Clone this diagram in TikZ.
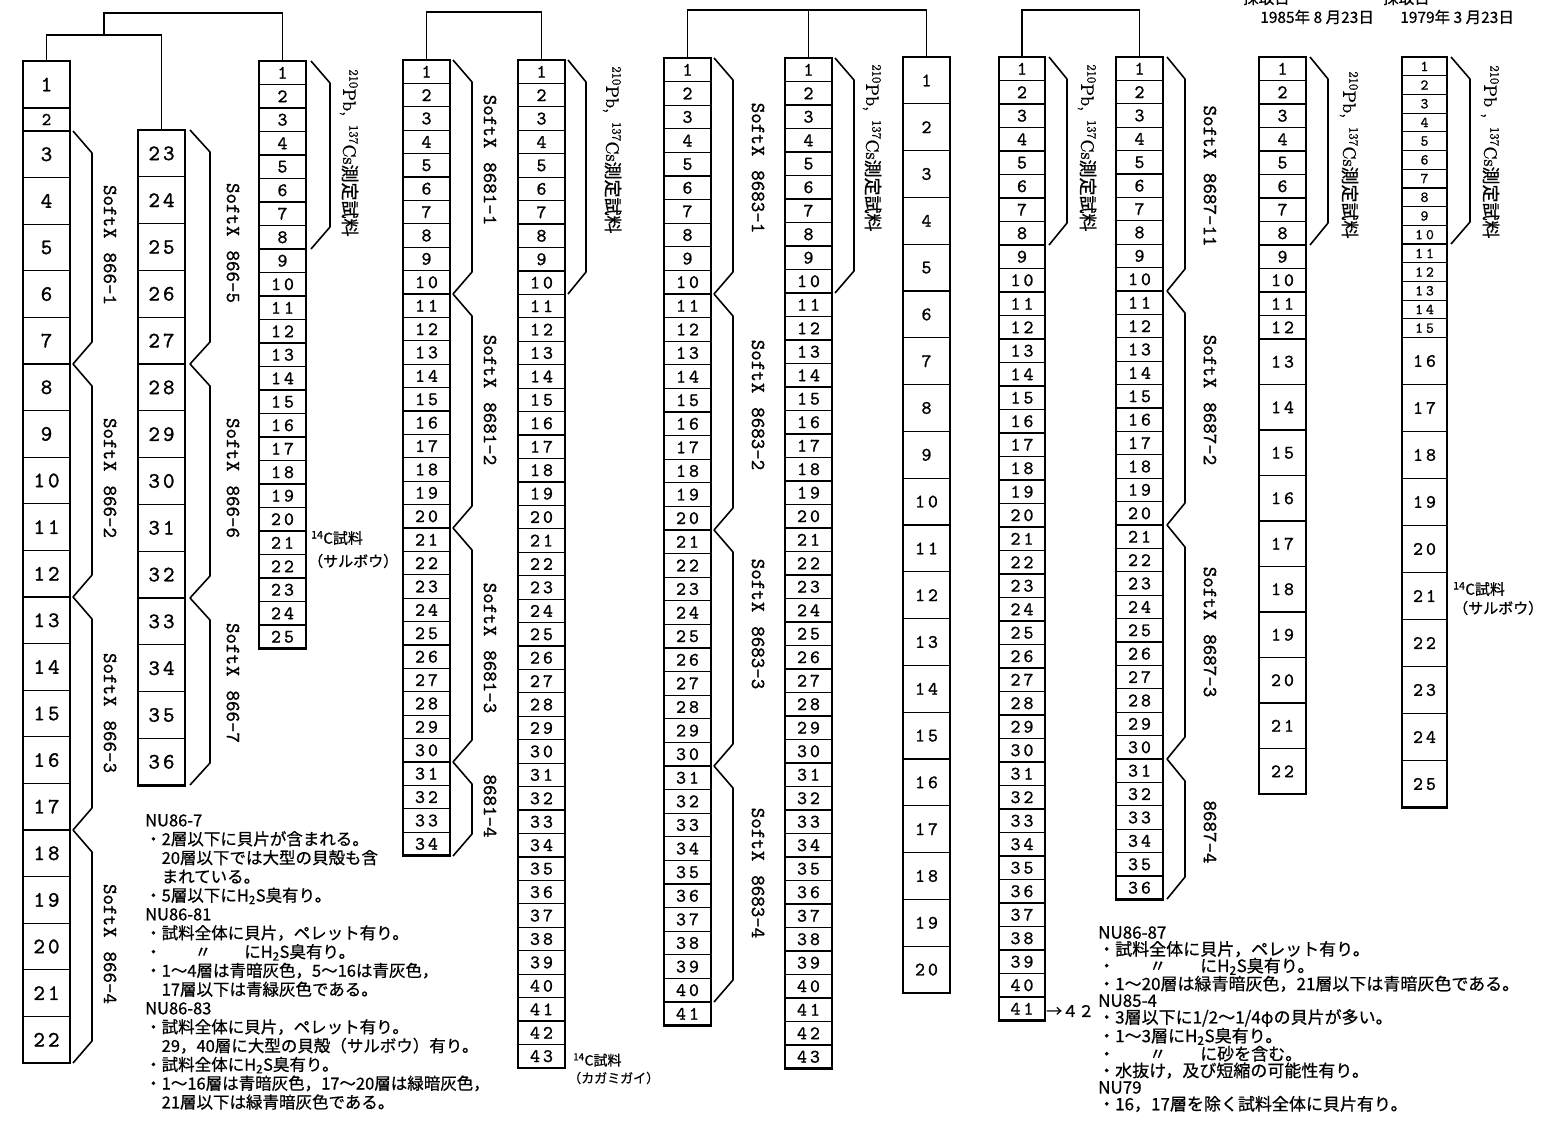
\documentclass[tikz,border=0pt]{standalone}
\usepackage{fontspec}
\newfontfamily\jp{Noto Sans CJK JP}[FakeBold=0.7]
\newfontfamily\numf{lmmono10-regular.otf}[FakeBold=1.2]
\newfontfamily\rmb{lmroman10-regular.otf}[FakeBold=1]
\def\spdA#1#2\relax{#1\ifx\relax#2\relax\else\kern3pt #2\fi}
\tikzset{
  cell/.style={draw, line width=1.2pt, inner sep=0pt, outer sep=0pt},
  frame/.style={line width=2.6pt},
  tree/.style={line width=1.6pt},
  brk/.style={line width=1.6pt, line join=round},
  vlab/.style={rotate=-90, inner sep=0pt, font=\numf\fontsize{20}{20}\selectfont},
  pblab/.style={rotate=-90, inner sep=0pt, font=\rmb\fontsize{18}{18}\selectfont},
  jtxt/.style={inner sep=0pt, anchor=west, font=\jp\fontsize{15}{15}\selectfont},
  note/.style={inner sep=0pt, anchor=north west, align=left}
}
\newcommand\mkcol[8]{%
  \foreach \i in {#6,...,#7}{%
    \pgfmathsetmacro\yc{#4+(\i-#6+0.5)*#5}%
    \node[cell, minimum width=#3pt, minimum height=#5pt, font=\numf\fontsize{#8}{#8}\selectfont] (#1\i) at ({#2+#3/2}, \yc) {\expandafter\spdA\i\relax};
  }}
\newcommand\frm[2]{\draw[frame] (#1.north west) rectangle (#2.south east);}
\newcommand\brk[4]{\draw[brk] (#1,#3) -- (#2,{#3+22}) -- (#2,{#4-22}) -- (#1,#4);}
\newcommand\pbtext{\textsuperscript{210}Pb,\hspace{9pt}\textsuperscript{137}Cs{\jp 測定試料}}
\newcommand\sx{Soft\kern1pt X\hspace{14pt}}
\begin{document}
\begin{tikzpicture}[x=1pt,y=-1pt]
\useasboundingbox[fill=white] (0,0) rectangle (1551,1127);

% ---------- columns ----------
\mkcol{A}{23}{47}{61}{47}{1}{1}{22}
\mkcol{A}{23}{47}{108}{23}{2}{2}{18}
\mkcol{A}{23}{47}{131}{46.6}{3}{22}{22}
\frm{A1}{A22}
\mkcol{B}{138}{47}{130}{46.8}{23}{36}{22}
\frm{B23}{B36}
\mkcol{C}{259}{47}{61}{23.5}{1}{25}{19}
\frm{C1}{C25}
\mkcol{D}{403}{47}{60}{23.4}{1}{34}{19}
\frm{D1}{D34}
\mkcol{E}{518}{47}{60}{23.44}{1}{43}{19}
\frm{E1}{E43}
\mkcol{F}{664}{47}{58}{23.6}{1}{41}{19}
\frm{F1}{F41}
\mkcol{G}{785}{47}{58}{23.5}{1}{43}{19}
\frm{G1}{G43}
\mkcol{H}{903}{47}{57}{46.8}{1}{20}{19}
\frm{H1}{H20}
\mkcol{I}{999}{46}{57}{23.5}{1}{41}{19}
\frm{I1}{I41}
\mkcol{J}{1116}{47}{57}{23.4}{1}{36}{19}
\frm{J1}{J36}
\mkcol{K}{1259}{47}{57}{23.5}{1}{12}{19}
\mkcol{K}{1259}{47}{339}{45.5}{13}{22}{19}
\frm{K1}{K22}
\mkcol{L}{1402}{45}{57}{18.7}{1}{15}{15}
\mkcol{L}{1402}{45}{337.5}{47}{16}{25}{19}
\frm{L1}{L25}

% ---------- trees ----------
\draw[tree] (A1.north) -- ++(0,-26) -| (B23.north);
\coordinate (j7) at (104,35);
\draw[tree] (j7) -- ++(0,-22) -| (C1.north);
\draw[tree] (D1.north) -- ++(0,-48) -| (E1.north);
\draw[tree] (F1.north) -- ++(0,-48) -| (H1.north);
\draw[tree] (G1.north) -- ++(0,-48);
\draw[tree] (I1.north) -- ++(0,-47) -| (J1.north);

% ---------- brackets ----------
\brk{73}{92}{131}{364}\brk{73}{92}{364}{597}\brk{73}{92}{597}{830}\brk{73}{92}{830}{1063}
\brk{190}{210}{130}{364}\brk{190}{210}{364}{598}\brk{190}{210}{598}{785}
\brk{311}{330}{61}{249}
\brk{453}{472}{60}{294}\brk{453}{472}{294}{528}\brk{453}{472}{528}{762}\brk{453}{472}{762}{856}
\brk{568}{586}{60}{294}
\brk{714}{733}{58}{294}\brk{714}{733}{294}{530}\brk{714}{733}{530}{766}\brk{714}{733}{766}{1002}
\brk{835}{854}{58}{293}
\brk{1049}{1067}{57}{245}
\brk{1167}{1185}{57}{291}\brk{1167}{1185}{291}{525}\brk{1167}{1185}{525}{759}\brk{1167}{1185}{759}{899}
\brk{1310}{1328}{57}{245}
\brk{1451}{1470}{57}{244}

% ---------- vertical labels ----------
\node[vlab] (la1) at (110,245) {\sx 866-1};
\node[vlab] (la2) at (110,478) {\sx 866-2};
\node[vlab] (la3) at (110,713) {\sx 866-3};
\node[vlab] (la4) at (110,944) {\sx 866-4};
\node[vlab] (lb1) at (233,243) {\sx 866-5};
\node[vlab] (lb2) at (233,478) {\sx 866-6};
\node[vlab] (lb3) at (233,683) {\sx 866-7};
\node[pblab] (lc) at (349,153) {\pbtext};
\node[vlab] (ld1) at (490,160) {\sx 8681-1};
\node[vlab] (ld2) at (490,400) {\sx 8681-2};
\node[vlab] (ld3) at (490,648) {\sx 8681-3};
\node[vlab] (ld4) at (490,806) {8681-4};
\node[pblab] (le) at (612,150) {\pbtext};
\node[vlab] (lf1) at (758,168) {\sx 8683-1};
\node[vlab] (lf2) at (758,405) {\sx 8683-2};
\node[vlab] (lf3) at (758,624) {\sx 8683-3};
\node[vlab] (lf4) at (758,873) {\sx 8683-4};
\node[pblab] (lg) at (872,148) {\pbtext};
\node[pblab] (li) at (1087,148) {\pbtext};
\node[vlab] (lj1) at (1210,176) {\sx 8687-11};
\node[vlab] (lj2) at (1210,400) {\sx 8687-2};
\node[vlab] (lj3) at (1210,632) {\sx 8687-3};
\node[vlab] (lj4) at (1210,832) {8687-4};
\node[pblab] (lk) at (1349,155) {\pbtext};
\node[pblab] (ll) at (1490,152) {\textsuperscript{210}Pb ,\hspace{9pt}\textsuperscript{137}Cs{\jp 測定試料}};

% ---------- side labels ----------
\node[jtxt] (c14a) at (311,538) {\textsuperscript{14}C試料};
\node[jtxt] (c14b) at (308,561) {（サルボウ）};
\node[jtxt, font=\jp\fontsize{14}{14}\selectfont] (c14c) at (573,1060) {\textsuperscript{14}C試料};
\node[jtxt, font=\jp\fontsize{13}{13}\selectfont] (c14d) at (568,1078) {（カガミガイ）};
\node[jtxt] (c14e) at (1453,589) {\textsuperscript{14}C試料};
\node[jtxt] (c14f) at (1453,608) {（サルボウ）};
\node[jtxt, font=\jp\fontsize{16}{16}\selectfont] (arr42) at (1046,1011) {→４２};

% ---------- dates ----------
\node[jtxt, font=\jp\fontsize{15.5}{15.5}\selectfont] (s1) at (1243,-2) {採取日};
\node[jtxt, font=\jp\fontsize{15.5}{15.5}\selectfont] (s2) at (1383,-2) {採取日};
\node[jtxt, font=\jp\fontsize{15.5}{15.5}\selectfont] (d1) at (1260,17) {1985年 8 月23日};
\node[jtxt, font=\jp\fontsize{15.5}{15.5}\selectfont] (d2) at (1400,17) {1979年 3 月23日};

% ---------- notes ----------
\node[note, font=\jp\fontsize{16.5}{18.8}\selectfont] (noteL) at (145,814) {%
NU86-7\\
・2層以下に貝片が含まれる。\\
　20層以下では大型の貝殻も含\\
　まれている。\\
・5層以下にH\textsubscript{2}S臭有り。\\
NU86-81\\
・試料全体に貝片，ペレット有り。\\
・　　〃　　にH\textsubscript{2}S臭有り。\\
・1～4層は青暗灰色，5～16は青灰色，\\
　17層以下は青緑灰色である。\\
NU86-83\\
・試料全体に貝片，ペレット有り。\\
　29，40層に大型の貝殻（サルボウ）有り。\\
・試料全体にH\textsubscript{2}S臭有り。\\
・1～16層は青暗灰色，17～20層は緑暗灰色，\\
　21層以下は緑青暗灰色である。};
\node[note, font=\jp\fontsize{17}{16.7}\selectfont] (noteR) at (1098,926) {%
NU86-87\\
・試料全体に貝片，ペレット有り。\\
・　　〃　　にH\textsubscript{2}S臭有り。\\
・1～20層は緑青暗灰色，21層以下は青暗灰色である。\\
NU85-4\\
・3層以下に1/2～1/4φの貝片が多い。\\
・1～3層にH\textsubscript{2}S臭有り。\\
・　　〃　　に砂を含む。\\
・水抜け，及び短縮の可能性有り。\\
NU79\\
・16，17層を除く試料全体に貝片有り。};
\end{tikzpicture}
\end{document}
